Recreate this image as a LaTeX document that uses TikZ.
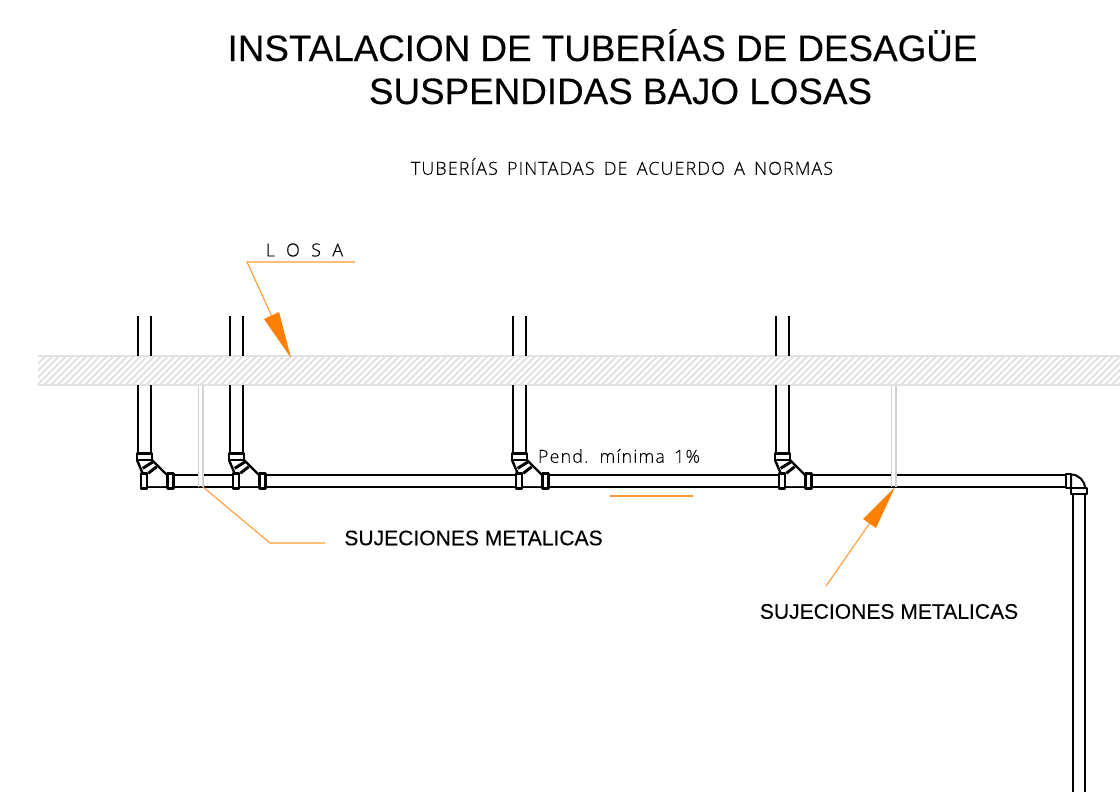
\documentclass[tikz,border=0pt]{standalone}
\usepackage{fontspec}
\setmainfont{Liberation Sans}
\newfontfamily\titlefont[FakeBold=0.15]{Liberation Sans}
\newfontfamily\cadfont[LetterSpace=6,WordSpace=1.6,FakeBold=0.2]{Open Sans Light}
\newfontfamily\cadwide[LetterSpace=63,FakeBold=0.2]{Open Sans Light}
\definecolor{leader}{RGB}{255,128,0}
\definecolor{slabgray}{RGB}{226,226,226}
\tikzset{
  pipeline/.style={line width=1.5pt,black,line join=round},
  fitline/.style={line width=1.8pt,black,line join=round},
  leaderline/.style={line width=0.8pt,leader!80!white},
  arrowhead/.style={fill=leader,draw=none},
  slabedge/.style={line width=1.4pt,slabgray},
  hatchline/.style={line width=1.5pt,slabgray},
  support/.style={line width=1.3pt,black!18},
  titletext/.style={font=\titlefont\fontsize{27.6}{34}\selectfont,text=black,inner sep=0pt,anchor=base},
  cadtext/.style={font=\cadfont\fontsize{13.5}{15}\selectfont,text=black,inner sep=0pt,anchor=center},
  widetext/.style={font=\cadwide\fontsize{13.5}{15}\selectfont,text=black,inner sep=0pt,anchor=center},
  labeltext/.style={font=\titlefont\fontsize{15.8}{18}\selectfont,text=black,inner sep=0pt,anchor=center}
}
\newcommand{\wyefit}[1]{%
 \begin{scope}[shift={(#1,0)}]
  \draw[pipeline] (0,316) -- (0,356) (13,316) -- (13,356);
  \draw[pipeline] (0,385) -- (0,454) (13,385) -- (13,454);
  \fill[white] (3,460) -- (14,460) -- (29,475) -- (30,486) -- (3,486) -- cycle;
  \draw[fitline,fill=white] (-1,453.5) rectangle (14,460);
  \draw[fitline] (-1,460) -- (4.5,473) (14,460) -- (29,475);
  \draw[fitline,line width=2.2pt] (4.7,468.3) -- (15.3,461.7) (10.3,473.3) -- (18.7,466.7);
  \draw[fitline,fill=white] (3,473.5) rectangle (9,488.5);
  \draw[fitline,fill=white] (29.5,473.5) rectangle (35.5,488.5);
 \end{scope}}
\begin{document}
\begin{tikzpicture}[x=0.75pt,y=-0.75pt]
\useasboundingbox (0,0) rectangle (1120,792);
\fill[white] (0,0) rectangle (1120,792);
% slab
\begin{scope}
 \clip (38,356) rectangle (1120,385);
 \foreach \i in {0,...,170} {\draw[hatchline] ({10+6.8*\i},385) -- ({39+6.8*\i},356);}
\end{scope}
\draw[slabedge] (38,356) -- (1120,356) (38,385) -- (1120,385);
% main pipe
\draw[pipeline] (141,475) -- (1066,475) (141,487) -- (1066,487);
% fittings
\wyefit{138}\wyefit{230}\wyefit{513}\wyefit{776}
% elbow
\draw[pipeline,fill=white] (1071,474.5) arc[start angle=-90,end angle=0,radius=14] -- (1071,488.5) -- cycle;
\draw[fitline,fill=white] (1066,474) rectangle (1071,488);
\draw[fitline,fill=white] (1071,488) rectangle (1087,494);
\draw[pipeline] (1072.5,494) -- (1072.5,792) (1084.5,494) -- (1084.5,792);
% supports
\fill[white] (199,474) rectangle (203,486) (892,474) rectangle (896,486);
\draw[support] (198.5,385.5) -- (198.5,487) (203,385.5) -- (203,487);
\draw[support] (891.5,385.5) -- (891.5,487) (896,385.5) -- (896,487);
% leaders
\coordinate (losaA) at (355,262);
\coordinate (losaB) at (247,262);
\coordinate (losaT) at (291,358);
\coordinate (sujA) at (325,543);
\coordinate (sujB) at (270,543);
\coordinate (sujT) at (203,487);
\coordinate (sujC) at (826,586);
\coordinate (sujU) at (895,487);
\coordinate (pendA) at (610,496);
\coordinate (pendB) at (693,496);
\draw[leaderline] (losaA) -- (losaB) -- (271.5,315.5);
\fill[arrowhead] (losaT) -- (264,319) -- (279,312) -- cycle;
\draw[leaderline] (sujA) -- (sujB) -- (sujT);
\draw[leaderline] (sujC) -- (869.5,523.5);
\fill[arrowhead] (sujU) -- (863,519) -- (876,528) -- cycle;
\draw[leaderline] (pendA) -- (pendB);
% text
\node[titletext] (t1) at (602.5,61) {INSTALACION DE TUBERÍAS DE DESAGÜE};
\node[titletext] (t2) at (620.5,104) {SUSPENDIDAS BAJO LOSAS};
\node[cadtext] (t3) at (622,166.5) {TUBERÍAS PINTADAS DE ACUERDO A NORMAS};
\node[widetext] (t4) at (304.5,250) {LOSA};
\node[cadtext] (t5) at (619,456) {Pend. mínima 1\%};
\node[labeltext] (t6) at (473.5,538) {SUJECIONES METALICAS};
\node[labeltext] (t7) at (889,611.5) {SUJECIONES METALICAS};
\end{tikzpicture}
\end{document}
